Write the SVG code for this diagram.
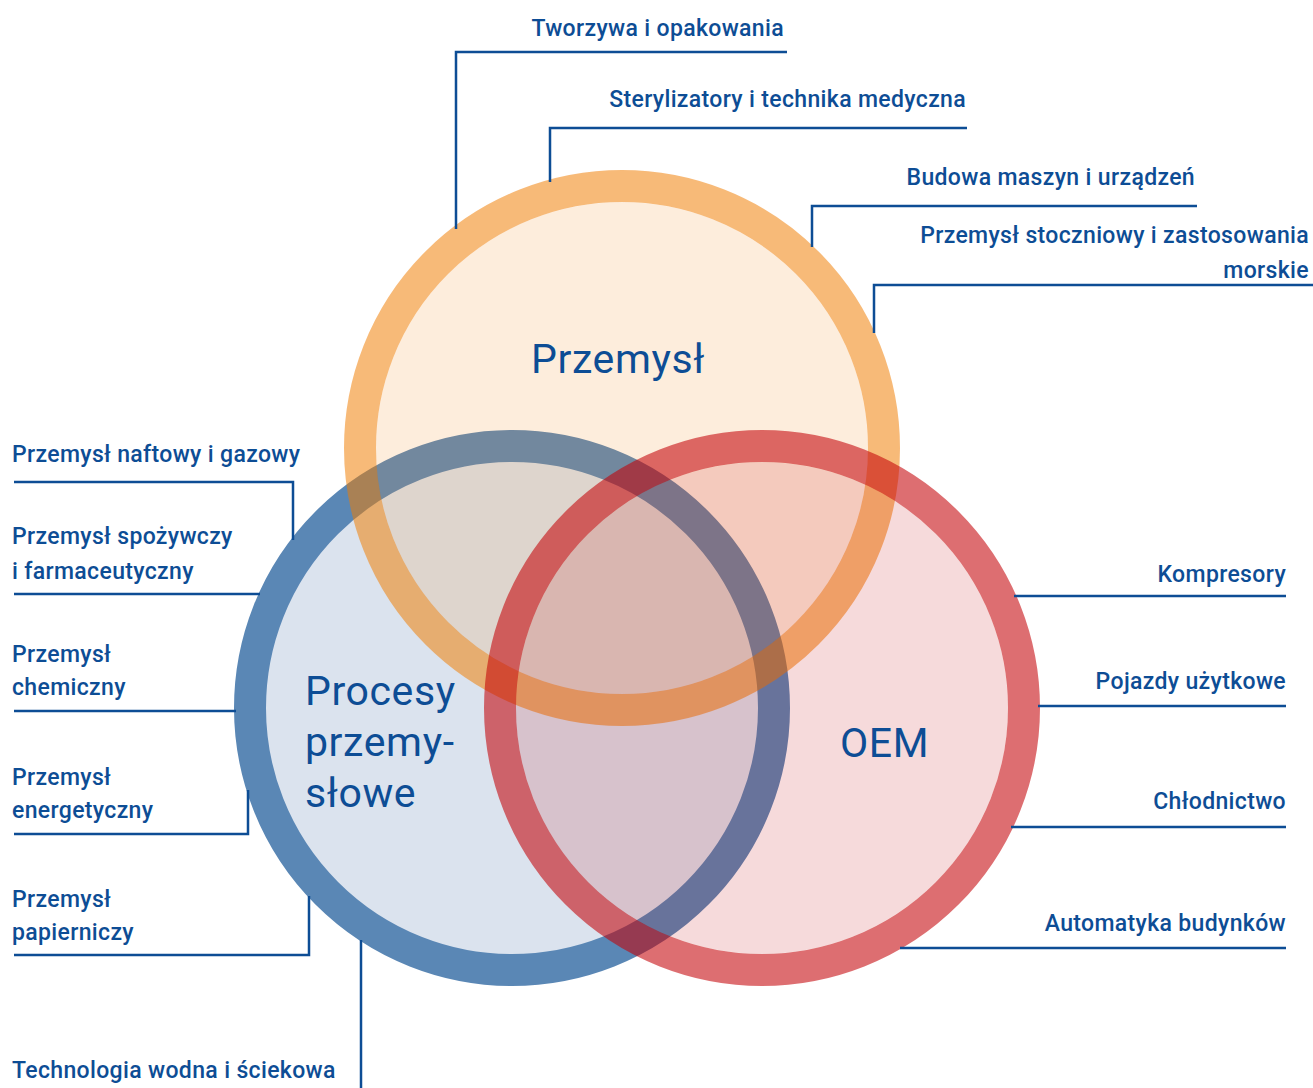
<svg xmlns="http://www.w3.org/2000/svg" width="1313" height="1088" viewBox="0 0 1313 1088">
<style>
.lbl{font-family:Roboto,"Liberation Sans",sans-serif;font-weight:500;font-size:23px;fill:#0d4d95;letter-spacing:0.35px}
.ttl{font-family:Roboto,"Liberation Sans",sans-serif;font-weight:400;font-size:41px;fill:#0d4d95;letter-spacing:0.6px}
.end{text-anchor:end}
.con{fill:none;stroke:#0d4d95;stroke-width:2.5}
</style>
<rect width="1313" height="1088" fill="#ffffff"/>
<g id="circle-procesy">
<circle cx="512" cy="708" r="262" fill="#dbe3ee" stroke="#5a87b5" stroke-width="32"/>
</g>
<g id="circle-przemysl">
<circle cx="622" cy="448" r="246" fill="#f38f25" fill-opacity="0.16"/>
<circle cx="622" cy="448" r="262" fill="none" stroke="#f07d00" stroke-opacity="0.53" stroke-width="32"/>
</g>
<g id="circle-oem">
<circle cx="762" cy="708" r="246" fill="#c30005" fill-opacity="0.145"/>
<circle cx="762" cy="708" r="262" fill="none" stroke="#c30005" stroke-opacity="0.57" stroke-width="32"/>
</g>
<g id="title-przemysl"><text class="ttl" x="531" y="373">Przemysł</text></g>
<g id="title-procesy"><text class="ttl" x="305" y="705">Procesy</text><text class="ttl" x="305" y="756">przemy-</text><text class="ttl" x="305" y="807">słowe</text></g>
<g id="title-oem"><text class="ttl" x="840" y="757">OEM</text></g>
<g id="connectors">
<path class="con" d="M787,52 H456 V229"/>
<path class="con" d="M967,128 H550 V182"/>
<path class="con" d="M1197,206 H812 V247"/>
<path class="con" d="M1313,285 H874 V333"/>
<path class="con" d="M14,482 H293 V540"/>
<path class="con" d="M14,594 H260"/>
<path class="con" d="M14,711 H236"/>
<path class="con" d="M14,834 H248 V790"/>
<path class="con" d="M14,955 H309 V896"/>
<path class="con" d="M361,940 V1088"/>
<path class="con" d="M1286,596 H1014"/>
<path class="con" d="M1286,706 H1038"/>
<path class="con" d="M1286,827 H1011"/>
<path class="con" d="M1286,948 H900"/>
</g>
<g id="label-tworzywa"><text class="lbl end" x="784" y="36">Tworzywa i opakowania</text></g>
<g id="label-sterylizatory"><text class="lbl end" x="966" y="107">Sterylizatory i technika medyczna</text></g>
<g id="label-budowa"><text class="lbl end" x="1195" y="185">Budowa maszyn i urządzeń</text></g>
<g id="label-stoczniowy"><text class="lbl end" x="1309" y="243">Przemysł stoczniowy i zastosowania</text><text class="lbl end" x="1309" y="278">morskie</text></g>
<g id="label-naftowy"><text class="lbl" x="12" y="462">Przemysł naftowy i gazowy</text></g>
<g id="label-spozywczy"><text class="lbl" x="12" y="544">Przemysł spożywczy</text><text class="lbl" x="12" y="579">i farmaceutyczny</text></g>
<g id="label-chemiczny"><text class="lbl" x="12" y="662">Przemysł</text><text class="lbl" x="12" y="695">chemiczny</text></g>
<g id="label-energetyczny"><text class="lbl" x="12" y="785">Przemysł</text><text class="lbl" x="12" y="818">energetyczny</text></g>
<g id="label-papierniczy"><text class="lbl" x="12" y="907">Przemysł</text><text class="lbl" x="12" y="940">papierniczy</text></g>
<g id="label-technologia"><text class="lbl" x="12" y="1078">Technologia wodna i ściekowa</text></g>
<g id="label-kompresory"><text class="lbl end" x="1286" y="582">Kompresory</text></g>
<g id="label-pojazdy"><text class="lbl end" x="1286" y="689">Pojazdy użytkowe</text></g>
<g id="label-chlodnictwo"><text class="lbl end" x="1286" y="809">Chłodnictwo</text></g>
<g id="label-automatyka"><text class="lbl end" x="1286" y="931">Automatyka budynków</text></g>
</svg>
